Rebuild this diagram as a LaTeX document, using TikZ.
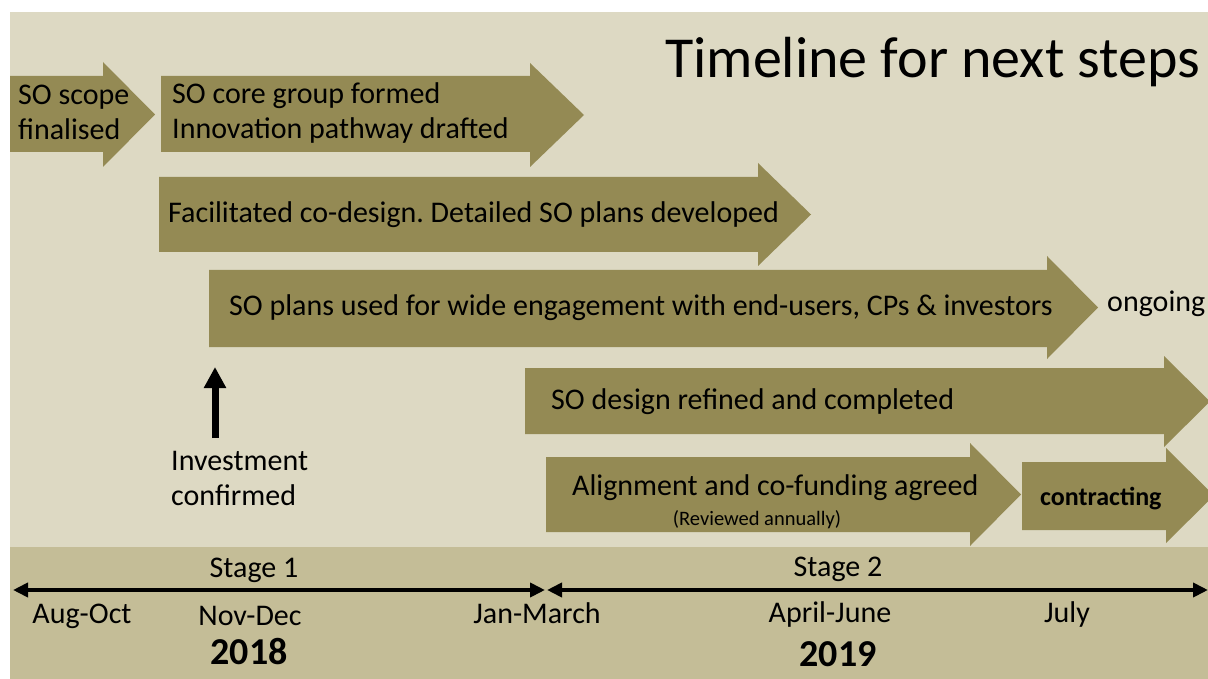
\documentclass[tikz,border=0pt]{standalone}
\usepackage{fontspec}
\setmainfont{Carlito}
\usetikzlibrary{arrows.meta}
\frenchspacing
\definecolor{bgc}{HTML}{DDD9C3}
\definecolor{bandc}{HTML}{C4BD97}
\definecolor{arrc}{HTML}{948A54}
\newcommand\myarrow[7]{%
  \fill[arrc] (#1,#4) -- (#2,#4) -- (#2,#6) -- (#3,{(#6+#7)/2}) -- (#2,#7) -- (#2,#5) -- (#1,#5) -- cycle;}
\tikzset{
  lbl/.style={font=\fontsize{30}{35}\selectfont, inner sep=0pt, anchor=base west, align=left, text=black},
  clbl/.style={font=\fontsize{30}{35}\selectfont, inner sep=0pt, anchor=base, text=black},
  yearlbl/.style={font=\fontsize{38}{44}\selectfont\bfseries, inner sep=0pt, anchor=base, text=black},
  tline/.style={line width=4pt, {Triangle[length=15pt,width=14pt]}-{Triangle[length=15pt,width=14pt]}},
}
\begin{document}
\begin{tikzpicture}[x=1pt,y=-1pt]
\useasboundingbox (0,0) rectangle (1208,679);
\fill[white] (0,0) rectangle (1208,679);
\fill[bgc] (10,12) rectangle (1208,547);
\fill[bandc] (10,547) rectangle (1208,679);
\begin{scope}
\clip (0,0) rectangle (1208,679);
\myarrow{10}{103}{155}{76}{152}{62}{167}
\myarrow{161}{530}{584}{76}{152}{63}{167}
\myarrow{159}{758}{811}{177}{252}{163}{266}
\myarrow{209}{1047}{1098}{270}{347}{256}{359}
\myarrow{525}{1164}{1210}{368}{434}{356}{447}
\myarrow{546}{970}{1021}{457}{532}{443}{546}
\myarrow{1022}{1166}{1214}{462}{530}{448}{543}
\end{scope}
% title
\node[font=\fontsize{58}{64}\selectfont, inner sep=0pt, anchor=base west] (title) at (665,78) {Timeline for next steps};
% arrow texts
\node[lbl] (scope) at (18,140) {SO scope\\finalised};
\node[lbl] (core) at (172,139) {SO core group formed\\Innovation pathway drafted};
\node[lbl] (facil) at (168,223) {Facilitated co-design. Detailed SO plans developed};
\node[lbl] (plans) at (229,316) {SO plans used for wide engagement with end-users, CPs \& investors};
\node[lbl] (ongoing) at (1107,312) {ongoing};
\node[lbl] (design) at (551,409) {SO design refined and completed};
\node[lbl] (align) at (572,495) {Alignment and co-funding agreed};
\node[font=\fontsize{20.5}{24}\selectfont, inner sep=0pt, anchor=base] (review) at (757,525) {(Reviewed annually)};
\node[font=\fontsize{26}{30}\selectfont\bfseries, inner sep=0pt, anchor=base west] (contract) at (1040,505) {contracting};
% investment
\coordinate (invb) at (215,438);
\coordinate (invt) at (215,367);
\draw[line width=7pt, -{Triangle[length=21pt,width=21pt]}] (invb) -- (invt);
\node[lbl] (invest) at (171,505) {Investment\\confirmed};
% timeline
\coordinate (s1l) at (13,590);
\coordinate (s1r) at (545,590);
\coordinate (s2l) at (547,590);
\coordinate (s2r) at (1208,590);
\draw[tline] (s1l) -- (s1r);
\draw[tline] (s2l) -- (s2r);
\node[clbl] (st1) at (254,577) {Stage 1};
\node[clbl] (st2) at (838,576) {Stage 2};
\node[clbl] (aug) at (82,623) {Aug-Oct};
\node[clbl] (nov) at (250,625) {Nov-Dec};
\node[clbl] (jan) at (537,623) {Jan-March};
\node[clbl] (apr) at (830,622) {April-June};
\node[clbl] (jul) at (1067,622) {July};
\node[yearlbl] (y18) at (249,664) {2018};
\node[yearlbl] (y19) at (838,666) {2019};
\end{tikzpicture}
\end{document}
